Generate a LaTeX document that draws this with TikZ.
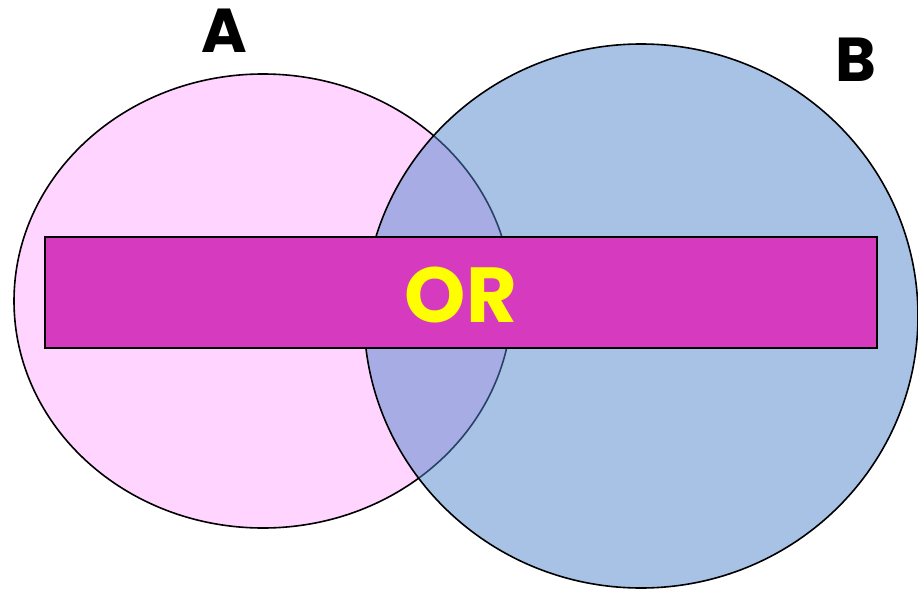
\documentclass[tikz,border=0pt]{standalone}
\usepackage{fontspec}
\setmainfont{Poppins}
\definecolor{pinkA}{RGB}{255,213,255}
\definecolor{blueB}{RGB}{81,133,205}
\definecolor{barM}{RGB}{214,58,190}
\definecolor{yel}{RGB}{255,255,0}
\begin{document}
\begin{tikzpicture}[x=1pt,y=-1pt,
  setline/.style={draw=black,line width=1.6pt},
  lbl/.style={font=\fontsize{62}{62}\selectfont\bfseries, text=black, inner sep=0pt}]
\useasboundingbox (0,0) rectangle (918,591);
\path[setline,fill=pinkA] (263,301) ellipse [x radius=249, y radius=227];
\path[draw=black,line width=1.6pt,fill=blueB,fill opacity=0.5] (641,316) ellipse [x radius=277, y radius=272];
\node[draw=black,line width=1.6pt,fill=barM,minimum width=832pt,minimum height=111pt,inner sep=0pt,anchor=north west] (bar) at (44,236) {};
\node[text=yel,font=\fontsize{78}{78}\selectfont\bfseries,inner sep=0pt] (or) at (461,295) {OR};
\node[lbl] (A) at (224,31) {A};
\node[lbl] (B) at (856,60) {B};
\end{tikzpicture}
\end{document}
